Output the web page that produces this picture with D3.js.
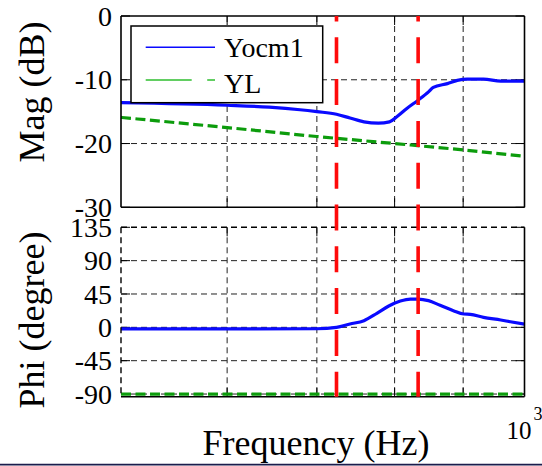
<!DOCTYPE html>
<html>
<head>
<meta charset="utf-8">
<script src="https://cdn.jsdelivr.net/npm/d3@7"></script>
<style>
  html, body { margin: 0; padding: 0; background: #fff; }
  svg { display: block; font-family: "Liberation Serif", "Times New Roman", serif; }
</style>
</head>
<body>
<svg id="chart" width="542" height="466"></svg>
<script>
// Yocm1 magnitude response (Hz, dB)
const yocm1MagFreq = [500, 600, 645, 680, 700, 724, 741, 759, 778, 793, 803, 817, 833, 848, 855, 876, 891, 906, 932, 960, 976, 1000];
const yocm1Mag     = [-13.6, -14.0, -14.3, -14.7, -15.0, -15.4, -16.0, -16.6, -16.8, -16.6, -15.8, -14.5, -13.2, -11.9, -11.2, -10.6, -10.1, -9.9, -9.9, -10.2, -10.2, -10.2];

// Yocm1 phase response (Hz, degree)
const yocm1PhaseFreq = [500, 600, 700, 724, 741, 759, 776, 792, 808, 822, 833, 848, 865, 885, 901, 911, 932, 960, 976, 1000];
const yocm1Phase     = [-2.2, -2.2, -1.9, 0, 4.5, 9, 18.9, 28.8, 35.5, 38.2, 38.2, 36, 29.7, 22.5, 18, 17.5, 13.5, 9.9, 7.6, 4.4];

// YL (inductive admittance) magnitude and phase
const ylFreq  = [500, 600, 700, 800, 900, 1000];
const ylMag   = [-15.9, -17.5, -18.9, -20.0, -21.0, -22.0];
const ylPhase = [-90, -90, -90, -90, -90, -90];

// Marked frequencies (Hz)
const markerFreq = [724, 833];

// Axis ticks
const freqGrid   = [600, 700, 800, 900];
const magTicks   = [0, -10, -20, -30];
const phaseTicks = [135, 90, 45, 0, -45, -90];

const svg = d3.select("#chart");

const left = 121, right = 524.5;
const x = d3.scaleLog().domain([500, 1000]).range([left, right]);
const yMag = d3.scaleLinear().domain([-30, 0]).range([207.3, 16]);
const yPh  = d3.scaleLinear().domain([-93.6, 135]).range([396.7, 227.3]);

const BLUE = "#0a0aff", GREEN = "#0c9c0c", RED = "#ff0a0a";

function panel(y, ticks, gridVals) {
  const g = svg.append("g");
  const [y0, y1] = y.range(); // bottom, top
  // grid
  g.selectAll(".vg").data(freqGrid).join("line")
    .attr("x1", d => x(d)).attr("x2", d => x(d))
    .attr("y1", y1).attr("y2", y0)
    .attr("stroke", "#222").attr("stroke-width", 1).attr("stroke-dasharray", "6 4");
  g.selectAll(".hg").data(gridVals).join("line")
    .attr("x1", left).attr("x2", right)
    .attr("y1", d => y(d)).attr("y2", d => y(d))
    .attr("stroke", "#222").attr("stroke-width", 1).attr("stroke-dasharray", "6 4");
  // ticks (inward, all four sides)
  const tl = 9;
  freqGrid.forEach(f => {
    g.append("line").attr("x1", x(f)).attr("x2", x(f)).attr("y1", y0).attr("y2", y0 - tl)
      .attr("stroke", "#000").attr("stroke-width", 1);
    g.append("line").attr("x1", x(f)).attr("x2", x(f)).attr("y1", y1).attr("y2", y1 + tl)
      .attr("stroke", "#000").attr("stroke-width", 1);
  });
  ticks.forEach(t => {
    g.append("line").attr("x1", left).attr("x2", left + tl).attr("y1", y(t)).attr("y2", y(t))
      .attr("stroke", "#000").attr("stroke-width", 1);
    g.append("line").attr("x1", right).attr("x2", right - tl).attr("y1", y(t)).attr("y2", y(t))
      .attr("stroke", "#000").attr("stroke-width", 1);
  });
  // tick labels
  g.selectAll(".tl").data(ticks).join("text")
    .attr("x", 112).attr("y", d => y(d)).attr("dy", "0.34em")
    .attr("text-anchor", "end").attr("font-size", 28).attr("fill", "#000")
    .text(d => d);
  return g;
}

function frame(y, solidTopLeft) {
  const [y0, y1] = y.range();
  const g = svg.append("g");
  g.append("line").attr("x1", left).attr("x2", right).attr("y1", y0).attr("y2", y0)
    .attr("stroke", "#000").attr("stroke-width", 1.6);
  g.append("line").attr("x1", right).attr("x2", right).attr("y1", y1).attr("y2", y0)
    .attr("stroke", "#000").attr("stroke-width", 1.6);
  const tlAttrs = solidTopLeft ? { w: 1.6, dash: null } : { w: 1.4, dash: "6 4" };
  g.append("line").attr("x1", left).attr("x2", right).attr("y1", y1).attr("y2", y1)
    .attr("stroke", "#000").attr("stroke-width", tlAttrs.w).attr("stroke-dasharray", tlAttrs.dash);
  g.append("line").attr("x1", left).attr("x2", left).attr("y1", y1).attr("y2", y0)
    .attr("stroke", "#000").attr("stroke-width", tlAttrs.w).attr("stroke-dasharray", tlAttrs.dash);
}

const gMag = panel(yMag, magTicks, [-10, -20]);
const gPh  = panel(yPh, phaseTicks, [90, 45, 0, -45, -90]);

// curves
const magLine = d3.line().x(d => x(d[0])).y(d => yMag(d[1])).curve(d3.curveMonotoneX);
const phLine  = d3.line().x(d => x(d[0])).y(d => yPh(d[1])).curve(d3.curveMonotoneX);

gMag.append("path").datum(d3.zip(ylFreq, ylMag)).attr("d", magLine)
  .attr("fill", "none").attr("stroke", GREEN).attr("stroke-width", 3.2).attr("stroke-dasharray", "10 4.5");
gMag.append("path").datum(d3.zip(yocm1MagFreq, yocm1Mag)).attr("d", magLine)
  .attr("fill", "none").attr("stroke", BLUE).attr("stroke-width", 3.2).attr("stroke-linejoin", "round");

gPh.append("path").datum(d3.zip(ylFreq, ylPhase)).attr("d", phLine)
  .attr("fill", "none").attr("stroke", GREEN).attr("stroke-width", 3.2).attr("stroke-dasharray", "10 4.5");
gPh.append("path").datum(d3.zip(yocm1PhaseFreq, yocm1Phase)).attr("d", phLine)
  .attr("fill", "none").attr("stroke", BLUE).attr("stroke-width", 3.2).attr("stroke-linejoin", "round");

frame(yMag, true);
frame(yPh, false);

// marker lines spanning both panels
svg.selectAll(".marker").data(markerFreq).join("line")
  .attr("x1", d => x(d)).attr("x2", d => x(d))
  .attr("y1", yMag.range()[1]).attr("y2", yPh.range()[0])
  .attr("stroke", RED).attr("stroke-width", 3.6)
  .attr("stroke-dasharray", "26 15.8").attr("stroke-dashoffset", 20.5);

// legend
const lg = svg.append("g");
lg.append("rect").attr("x", 131).attr("y", 26).attr("width", 191.7).attr("height", 76.7)
  .attr("fill", "#fff").attr("stroke", "#000").attr("stroke-width", 1.5);
lg.append("line").attr("x1", 145.7).attr("x2", 215).attr("y1", 47.3).attr("y2", 47.3)
  .attr("stroke", BLUE).attr("stroke-width", 1.5);
lg.append("line").attr("x1", 145.7).attr("x2", 215).attr("y1", 80).attr("y2", 80)
  .attr("stroke", "#2fbf2f").attr("stroke-width", 1.5).attr("stroke-dasharray", "46 15.5");
lg.append("text").attr("x", 224).attr("y", 56.7).attr("font-size", 28).text("Yocm1");
lg.append("text").attr("x", 224).attr("y", 93.3).attr("font-size", 28).text("YL");

// axis titles
svg.append("text").attr("transform", "translate(44,92) rotate(-90)")
  .attr("text-anchor", "middle").attr("font-size", 36).text("Mag (dB)");
svg.append("text").attr("transform", "translate(44,320) rotate(-90)")
  .attr("text-anchor", "middle").attr("font-size", 36).text("Phi (degree)");
svg.append("text").attr("x", 316).attr("y", 455)
  .attr("text-anchor", "middle").attr("font-size", 36).text("Frequency (Hz)");

// decade label at the right end of the frequency axis
const dec = svg.append("text").attr("x", 506.5).attr("y", 438.5).attr("font-size", 25);
dec.append("tspan").text("10");
dec.append("tspan").attr("font-size", 18).attr("dy", -19).attr("dx", 2).text("3");

// bottom rule
svg.append("line").attr("x1", 0).attr("x2", 542).attr("y1", 464.6).attr("y2", 464.6)
  .attr("stroke", "#1c1c4c").attr("stroke-width", 1.6);
</script>
</body>
</html>
